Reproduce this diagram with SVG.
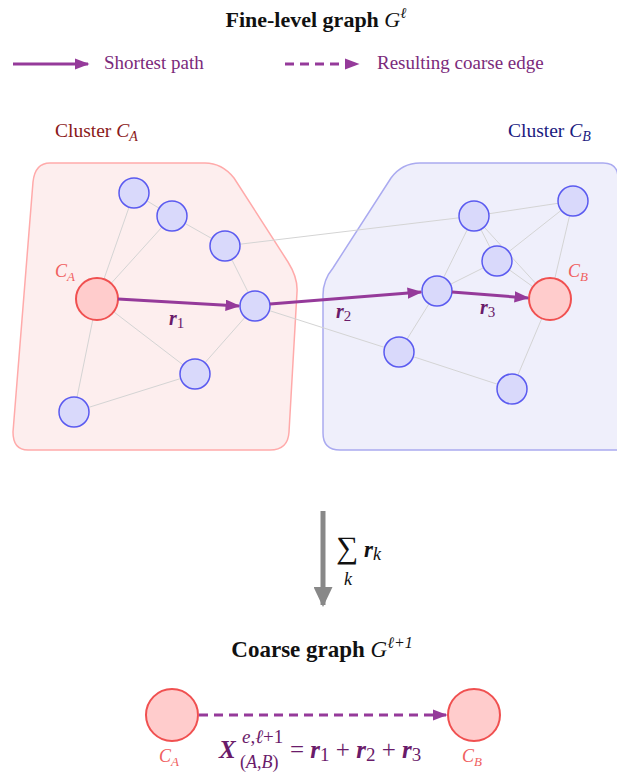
<svg xmlns="http://www.w3.org/2000/svg" width="617" height="773" viewBox="0 0 617 773">
<style>
.t{font-family:"Liberation Serif","DejaVu Serif",serif}
.title{font-weight:bold;font-size:22px;fill:#111}
.leg{font-size:19px;fill:#7b2a7b}
.node{fill:#d9d9fb;stroke:#5a5af0;stroke-width:1.5}
.cl{fill:#ffcccc;stroke:#f05050;stroke-width:2}
.edge{stroke:#d4d4d4;stroke-width:1;fill:none}
.path{stroke:#953a9a;stroke-width:3;fill:none}
.rl{font-weight:bold;font-style:italic;font-size:20px;fill:#6a1b6a}
.cll{font-style:italic;font-size:18px;fill:#f06060}
.fm{fill:#6a1b6a}
</style>
<defs>
<marker id="ah" viewBox="0 0 10 10" refX="9" refY="5" markerWidth="5" markerHeight="3.8" orient="auto" markerUnits="strokeWidth" preserveAspectRatio="none">
<path d="M0,0 L10,5 L0,10 z" fill="#953a9a"/>
</marker>
<marker id="gah" viewBox="0 0 10 10" refX="9" refY="5" markerWidth="4" markerHeight="3.8" orient="auto" markerUnits="strokeWidth" preserveAspectRatio="none">
<path d="M0,0 L10,5 L0,10 z" fill="#888"/>
</marker>
</defs>

<g id="title"><text class="t title" x="316" y="27" text-anchor="middle">Fine-level graph <tspan font-weight="normal" font-style="italic">G</tspan><tspan font-weight="normal" font-style="italic" font-size="15" dy="-9">ℓ</tspan></text></g>

<g id="legend">
<line class="path" x1="13" y1="64" x2="88" y2="64" marker-end="url(#ah)"/>
<text class="t leg" x="104" y="69">Shortest path</text>
<line class="path" x1="285" y1="64" x2="358" y2="64" stroke-dasharray="9,6" marker-end="url(#ah)"/>
<text class="t leg" x="377" y="69">Resulting coarse edge</text>
</g>

<g id="clusterA">
<path d="M50,163 L205,163 Q222,163 234,178 L288,262 Q298,278 297,292 L289,432 Q288,450 270,450 L28,450 Q13,450 13,432 L33,182 Q35,163 50,163 Z" fill="#fdeeee" stroke="#ffaaaa" stroke-width="1.5"/>
<text class="t" x="55" y="137" style="font-size:19.5px" fill="#8b1a1a">Cluster <tspan font-style="italic">C</tspan><tspan font-style="italic" style="font-size:14px" dy="4">A</tspan></text>
</g>
<g id="clusterB">
<path d="M420,163 L603,163 Q618,163 618,178 L618,450 L340,450 Q323,450 323,433 L323,295 Q323,280 333,268 L391,178 Q402,163 420,163 Z" fill="#efeffb" stroke="#aaaaf0" stroke-width="1.5"/>
<text class="t" x="508" y="137" style="font-size:19.5px" fill="#1a1a80">Cluster <tspan font-style="italic">C</tspan><tspan font-style="italic" style="font-size:14px" dy="4">B</tspan></text>
</g>

<g id="edges">
<line class="edge" x1="134" y1="193" x2="172" y2="216"/>
<line class="edge" x1="172" y1="216" x2="225" y2="246"/>
<line class="edge" x1="134" y1="193" x2="97" y2="299"/>
<line class="edge" x1="172" y1="216" x2="97" y2="299"/>
<line class="edge" x1="225" y1="246" x2="255" y2="306"/>
<line class="edge" x1="97" y1="299" x2="195" y2="374"/>
<line class="edge" x1="97" y1="299" x2="74" y2="412"/>
<line class="edge" x1="74" y1="412" x2="195" y2="374"/>
<line class="edge" x1="195" y1="374" x2="255" y2="306"/>
<line class="edge" x1="225" y1="246" x2="474" y2="216"/>
<line class="edge" x1="255" y1="306" x2="399" y2="352"/>
<line class="edge" x1="474" y1="216" x2="573" y2="201"/>
<line class="edge" x1="474" y1="216" x2="437" y2="291"/>
<line class="edge" x1="474" y1="216" x2="497" y2="261"/>
<line class="edge" x1="474" y1="216" x2="550" y2="299"/>
<line class="edge" x1="573" y1="201" x2="497" y2="261"/>
<line class="edge" x1="573" y1="201" x2="550" y2="299"/>
<line class="edge" x1="497" y1="261" x2="550" y2="299"/>
<line class="edge" x1="497" y1="261" x2="437" y2="291"/>
<line class="edge" x1="437" y1="291" x2="399" y2="352"/>
<line class="edge" x1="399" y1="352" x2="512" y2="389"/>
<line class="edge" x1="512" y1="389" x2="550" y2="299"/>
</g>

<g id="nodes">
<g id="a1"><circle class="node" cx="134" cy="193" r="15"/></g>
<g id="a2"><circle class="node" cx="172" cy="216" r="15"/></g>
<g id="a3"><circle class="node" cx="225" cy="246" r="15"/></g>
<g id="a4"><circle class="node" cx="255" cy="306" r="15"/></g>
<g id="a5"><circle class="node" cx="195" cy="374" r="15"/></g>
<g id="a6"><circle class="node" cx="74" cy="412" r="15"/></g>
<g id="CA"><circle class="cl" cx="97" cy="299" r="21"/>
<text class="t cll" x="55" y="277">C<tspan font-size="13" dy="4">A</tspan></text></g>
<g id="b1"><circle class="node" cx="474" cy="216" r="15"/></g>
<g id="b2"><circle class="node" cx="573" cy="201" r="15"/></g>
<g id="b3"><circle class="node" cx="497" cy="261" r="15"/></g>
<g id="b4"><circle class="node" cx="437" cy="291" r="15"/></g>
<g id="b5"><circle class="node" cx="399" cy="352" r="15"/></g>
<g id="b6"><circle class="node" cx="512" cy="389" r="15"/></g>
<g id="CB"><circle class="cl" cx="550" cy="299" r="21"/>
<text class="t cll" x="568" y="277">C<tspan font-size="13" dy="4">B</tspan></text></g>
</g>

<g id="paths">
<line class="path" x1="118" y1="299" x2="239" y2="306" marker-end="url(#ah)"/>
<line class="path" x1="270" y1="304" x2="421" y2="292" marker-end="url(#ah)"/>
<line class="path" x1="452" y1="292" x2="528" y2="298" marker-end="url(#ah)"/>
<text class="t rl" x="169" y="325">r<tspan font-weight="normal" font-style="normal" font-size="15" dy="3">1</tspan></text>
<text class="t rl" x="336" y="318">r<tspan font-weight="normal" font-style="normal" font-size="15" dy="3">2</tspan></text>
<text class="t rl" x="480" y="314">r<tspan font-weight="normal" font-style="normal" font-size="15" dy="3">3</tspan></text>
</g>

<g id="sumArrow">
<line x1="323" y1="511" x2="323" y2="605" stroke="#888" stroke-width="5" marker-end="url(#gah)"/>
<text class="t" x="336" y="558" font-size="31" fill="#111">∑</text>
<text class="t" x="344" y="585" font-size="18" font-style="italic" fill="#111">k</text>
<text class="t" x="364" y="557" font-size="23" font-style="italic" font-weight="bold" fill="#111">r<tspan font-size="18" font-weight="normal" dy="3">k</tspan></text>
</g>

<g id="title2"><text class="t title" x="322" y="657" text-anchor="middle" style="font-size:23px">Coarse graph <tspan font-weight="normal" font-style="italic">G</tspan><tspan font-weight="normal" font-style="italic" font-size="16" dy="-9">ℓ+1</tspan></text></g>

<g id="coarse">
<g id="cCA"><circle class="cl" cx="172" cy="715" r="26"/>
<text class="t cll" x="159" y="762">C<tspan font-size="13" dy="4">A</tspan></text></g>
<g id="cCB"><circle class="cl" cx="474" cy="715" r="26"/>
<text class="t cll" x="462" y="762">C<tspan font-size="13" dy="4">B</tspan></text></g>
<line class="path" x1="199" y1="715" x2="446" y2="715" stroke-dasharray="9,6" marker-end="url(#ah)"/>
<g id="formula" class="t">
<text class="fm" x="219" y="758" font-size="25" font-weight="bold" font-style="italic">X</text>
<text class="fm" x="242" y="743" font-size="19"><tspan font-style="italic">e</tspan>,<tspan font-style="italic">ℓ</tspan>+1</text>
<text class="fm" x="240" y="768" font-size="18">(<tspan font-style="italic">A</tspan>,<tspan font-style="italic">B</tspan>)</text>
<text class="fm" x="290" y="758" font-size="25">= <tspan font-weight="bold" font-style="italic">r</tspan><tspan font-size="19" dy="3">1</tspan><tspan dy="-3"> + </tspan><tspan font-weight="bold" font-style="italic">r</tspan><tspan font-size="19" dy="3">2</tspan><tspan dy="-3"> + </tspan><tspan font-weight="bold" font-style="italic">r</tspan><tspan font-size="19" dy="3">3</tspan></text>
</g>
</g>
</svg>
